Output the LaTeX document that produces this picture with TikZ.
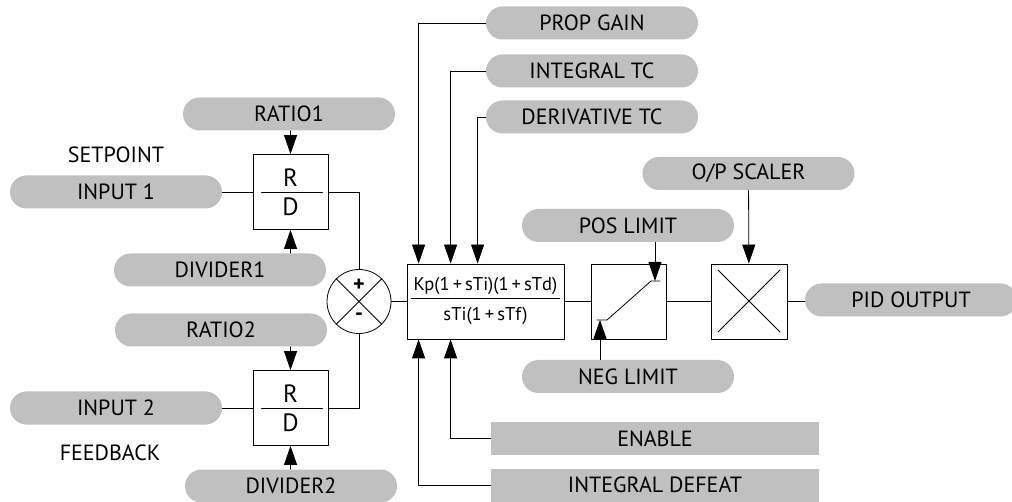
\documentclass[tikz,border=0pt]{standalone}
\usepackage{fontspec}
\setmainfont{PT Sans}
\usetikzlibrary{arrows.meta}
\definecolor{pillgray}{RGB}{192,192,192}
\begin{document}
\begin{tikzpicture}[x=1pt,y=-1pt,line width=0.8pt,line cap=round,line join=round,
  pill/.style={fill=pillgray,rounded corners=16.5pt,minimum width=212pt,minimum height=33pt,
    inner sep=0pt,font=\fontsize{22}{24}\selectfont},
  flagbox/.style={fill=pillgray,minimum width=328pt,minimum height=33pt,inner sep=0pt,
    font=\fontsize{22}{24}\selectfont},
  lbl/.style={inner sep=0pt,font=\fontsize{22}{24}\selectfont},
  blk/.style={draw,minimum width=75pt,minimum height=75pt,inner sep=0pt},
  tip/.style={-{Triangle[length=19pt,width=13pt]}}]
  \useasboundingbox (0,0) rectangle (1012,502);
  % setpoint branch
  \node[pill] (ratio1) at (289,114) {RATIO1};
  \node[lbl] (setpt) at (116,155) {SETPOINT};
  \node[pill] (in1) at (116,192) {INPUT 1};
  \node[pill] (div1) at (220,270) {DIVIDER1};
  \node[blk] (rd1) at (290.5,192) {};
  \node[inner sep=0pt,above=5pt,font=\fontsize{25}{26}\selectfont] (r1) at (rd1.center) {R};
  \node[inner sep=0pt,below=5pt,font=\fontsize{25}{26}\selectfont] (d1) at (rd1.center) {D};
  \draw ([xshift=9pt]rd1.west) -- ([xshift=-6pt]rd1.east);
  % feedback branch
  \node[pill] (ratio2) at (221,330) {RATIO2};
  \node[pill] (in2) at (116,408) {INPUT 2};
  \node[lbl] (fback) at (110,453) {FEEDBACK};
  \node[pill] (div2) at (291,486) {DIVIDER2};
  \node[blk] (rd2) at (290.5,408) {};
  \node[inner sep=0pt,above=5pt,font=\fontsize{25}{26}\selectfont] (r2) at (rd2.center) {R};
  \node[inner sep=0pt,below=5pt,font=\fontsize{25}{26}\selectfont] (d2) at (rd2.center) {D};
  \draw ([xshift=9pt]rd2.west) -- ([xshift=-6pt]rd2.east);
  % summing junction
  \node[draw,circle,minimum size=64pt,inner sep=0pt] (sum) at (359,301.5) {};
  \draw (sum.north west) -- (sum.south east);
  \draw (sum.north east) -- (sum.south west);
  \node[inner sep=0pt,font=\fontsize{22}{22}\selectfont\bfseries] (plus) at (359,285) {+};
  \node[inner sep=0pt,font=\fontsize{22}{22}\selectfont\bfseries] (minus) at (359,317) {-};
  % pid block
  \node[blk,minimum width=157pt] (pid) at (485.5,301.5)
    {\fontsize{18.5}{20}\selectfont\begin{tabular}{@{\,}c@{\,}}Kp(1\,+\,sTi)(1\,+\,sTd)\\[1pt]\hline
     \rule{0pt}{22pt}sTi(1\,+\,sTf)\end{tabular}};
  \node[pill] (pgain) at (592,23) {PROP GAIN};
  \node[pill] (itc) at (592,71) {INTEGRAL TC};
  \node[pill] (dtc) at (592,117) {DERIVATIVE TC};
  \node[flagbox] (enable) at (655,438.5) {ENABLE};
  \node[flagbox] (idef) at (655,485) {INTEGRAL DEFEAT};
  % limiter
  \node[blk] (lim) at (628.5,301.5) {};
  \coordinate (negpt) at (600,320);
  \coordinate (pospt) at (655,281);
  \draw (597,320) -- (607,320) -- (651,281) -- (660,281);
  \node[pill] (poslim) at (628,225.5) {POS LIMIT};
  \node[pill] (neglim) at (628,376.5) {NEG LIMIT};
  % scaler
  \node[blk,minimum width=76pt] (mult) at (749,301.5) {};
  \draw (718,270) -- (780,332);
  \draw (718,332) -- (780,270);
  \node[pill] (opscal) at (748.5,173.5) {O/P SCALER};
  \node[pill] (pidout) at (911,300) {PID OUTPUT};
  % connectors
  \draw (in1) -- (rd1);
  \draw[tip] (ratio1.south -| rd1.north) -- (rd1.north);
  \draw[tip] (div1.north -| rd1.south) -- (rd1.south);
  \draw (in2) -- (rd2);
  \draw[tip] (ratio2.south -| rd2.north) -- (rd2.north);
  \draw[tip] (div2.north -| rd2.south) -- (rd2.south);
  \draw (rd1.east) -| (sum.north);
  \draw (rd2.east) -| (sum.south);
  \draw (sum) -- (pid);
  \draw[tip] (pgain.west) -| ([xshift=12pt]pid.north west);
  \draw[tip] (itc.west) -| ([xshift=44pt]pid.north west);
  \draw[tip] (dtc.west) -| ([xshift=71pt]pid.north west);
  \draw[tip] (idef.west) -| ([xshift=12pt]pid.south west);
  \draw[tip] (enable.west) -| ([xshift=44pt]pid.south west);
  \draw (pid) -- (lim);
  \draw[tip] (poslim.south -| pospt) -- (pospt);
  \draw[tip] (neglim.north -| negpt) -- (negpt);
  \draw (lim) -- (mult);
  \draw[tip] (opscal) -- (mult);
  \draw (mult.east) -- (mult.east -| pidout.west);
\end{tikzpicture}
\end{document}
